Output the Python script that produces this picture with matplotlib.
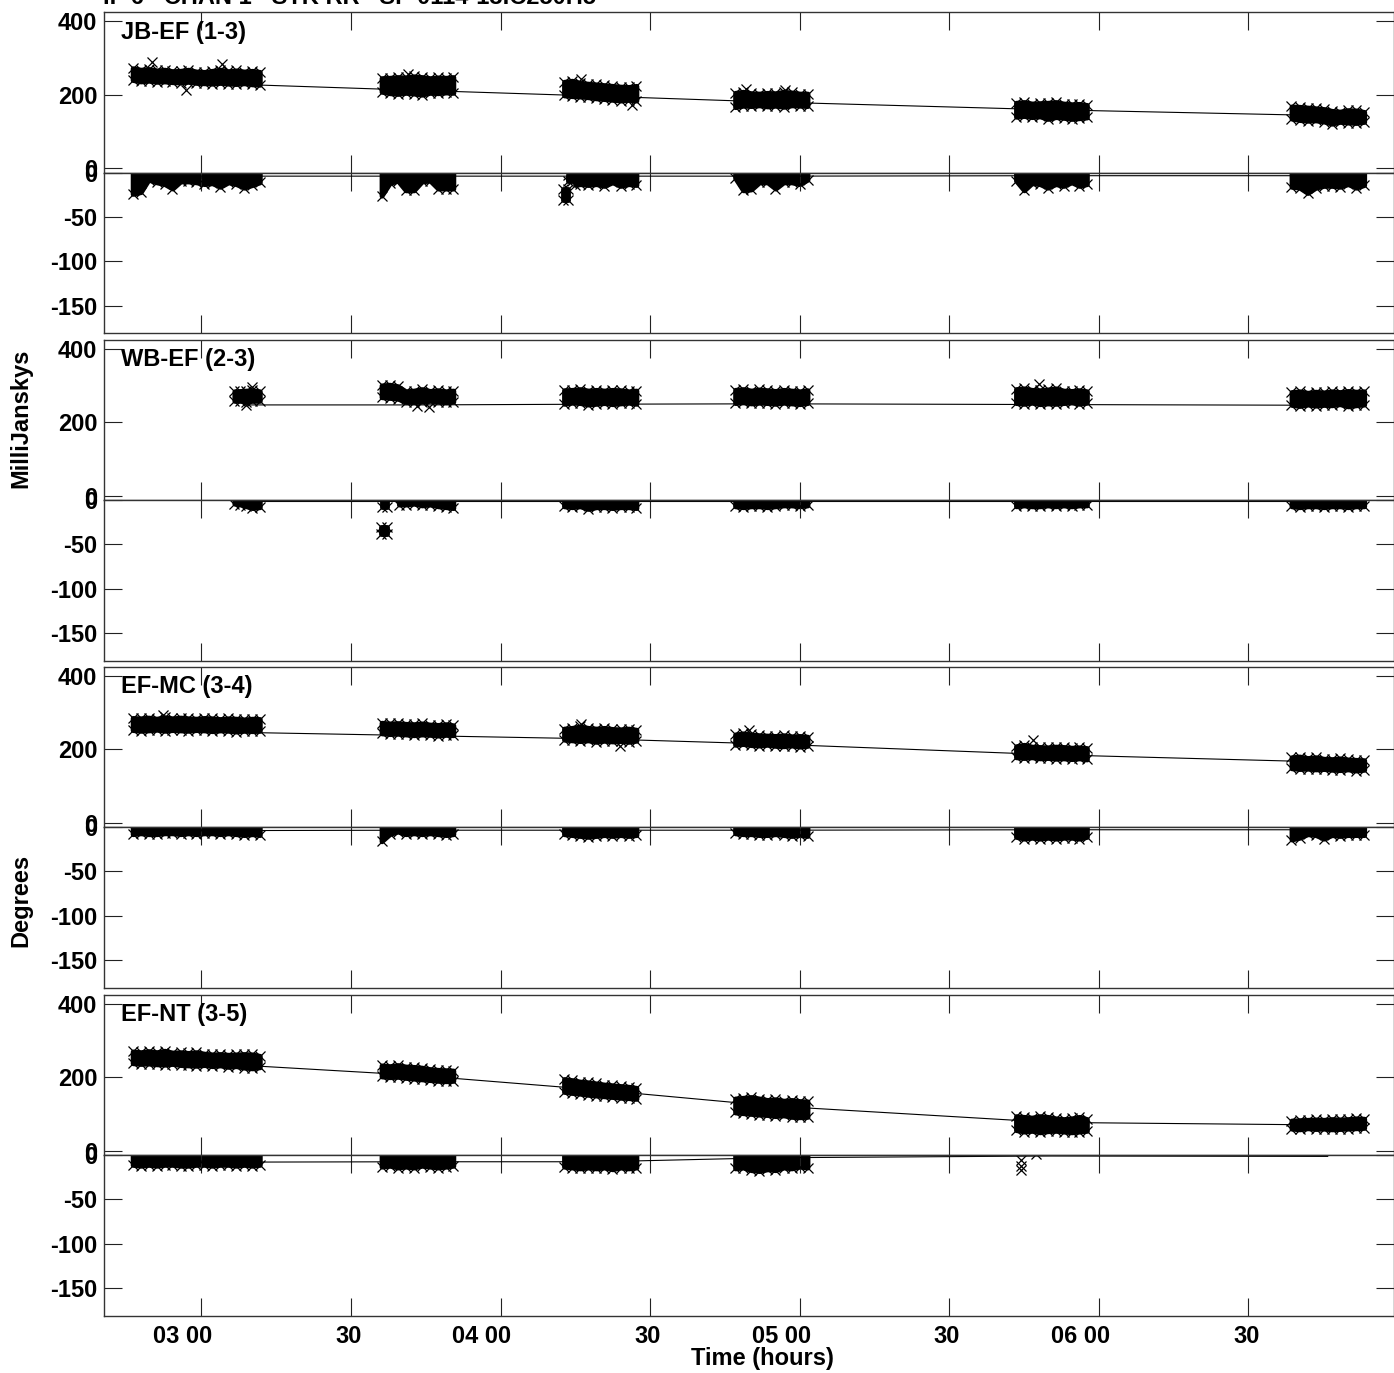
import matplotlib
matplotlib.use('Agg')
import matplotlib.pyplot as plt
from matplotlib.transforms import ScaledTranslation

plt.rcParams['font.family'] = ['Liberation Sans', 'DejaVu Sans']
plt.rcParams['font.weight'] = 'bold'
plt.rcParams['axes.unicode_minus'] = False

W, H = 1394.0, 1373.0
DPI = 100

# scan column times, hours
t1 = [2.77, 2.797, 2.823, 2.85, 2.877, 2.903, 2.93, 2.956, 2.983, 3.01, 3.036, 3.063, 3.09, 3.116, 3.143, 3.17, 3.195]
t2 = [3.602, 3.629, 3.656, 3.683, 3.71, 3.737, 3.764, 3.791, 3.818, 3.842]
t3 = [4.212, 4.239, 4.266, 4.293, 4.32, 4.347, 4.374, 4.401, 4.428, 4.454]
t4 = [4.784, 4.811, 4.838, 4.865, 4.892, 4.919, 4.946, 4.973, 5.0, 5.026]
t5 = [5.723, 5.75, 5.776, 5.803, 5.829, 5.856, 5.882, 5.909, 5.935, 5.96]
t6 = [6.644, 6.671, 6.698, 6.725, 6.752, 6.779, 6.806, 6.833, 6.86, 6.887]
t1_wb = [3.11, 3.13, 3.15, 3.17, 3.195]
t2_wb_a = [3.602, 3.62]
t2_wb_b = [3.66, 3.683, 3.71, 3.737, 3.764, 3.791, 3.818, 3.842]
t3_jb = [4.25, 4.266, 4.293, 4.32, 4.347, 4.374, 4.401, 4.428, 4.454]
t_model = [2.98, 3.72, 4.33, 4.905, 5.84, 6.765]
t_model_wb = [3.15, 3.72, 4.33, 4.905, 5.84, 6.765]

scan_times = [t1, t2, t3, t4, t5, t6]
scan_times_wb = [t1_wb, t2, t3, t4, t5, t6]

baselines = ['JB-EF (1-3)', 'WB-EF (2-3)', 'EF-MC (3-4)', 'EF-NT (3-5)']

# amplitude band, mJy (top and bottom of the x cloud per column)
jb_amp_hi = [[272, 268, 270, 266, 268, 264, 265, 268, 263, 262, 265, 268, 264, 266, 263, 265, 262],
             [245, 246, 248, 247, 250, 248, 245, 247, 246, 248],
             [235, 238, 232, 230, 228, 226, 224, 222, 221, 224],
             [205, 208, 204, 203, 205, 204, 208, 206, 203, 203],
             [178, 180, 176, 177, 178, 180, 176, 174, 175, 172],
             [168, 167, 165, 163, 161, 156, 154, 158, 157, 153]]
jb_amp_lo = [[240, 236, 238, 235, 236, 234, 233, 235, 232, 231, 230, 232, 230, 229, 231, 228, 227],
             [208, 204, 202, 205, 203, 200, 205, 204, 206, 205],
             [198, 196, 195, 193, 190, 188, 186, 184, 186, 184],
             [166, 170, 169, 171, 168, 170, 167, 171, 170, 169],
             [140, 142, 139, 141, 134, 139, 137, 134, 136, 138],
             [135, 131, 129, 130, 127, 121, 126, 124, 123, 126]]
wb_amp_hi = [[284, 285, 286, 287, 284],
             [300, 302, 298, 284, 286, 290, 285, 287, 284, 286],
             [287, 288, 290, 286, 288, 286, 288, 287, 284, 286],
             [288, 290, 286, 289, 287, 285, 288, 286, 284, 287],
             [290, 292, 288, 287, 289, 292, 286, 285, 287, 284],
             [282, 284, 280, 283, 281, 284, 282, 285, 283, 284]]
wb_amp_lo = [[258, 258, 256, 258, 258],
             [268, 266, 264, 255, 255, 256, 258, 256, 254, 256],
             [250, 253, 252, 248, 250, 252, 249, 251, 253, 250],
             [252, 254, 251, 253, 252, 250, 253, 251, 249, 252],
             [252, 250, 253, 249, 251, 250, 252, 254, 250, 253],
             [247, 244, 248, 245, 247, 246, 249, 243, 246, 248]]
mc_amp_hi = [[285, 284, 286, 283, 287, 284, 286, 284, 283, 285, 284, 282, 284, 283, 281, 283, 282],
             [272, 270, 271, 269, 268, 270, 267, 266, 268, 265],
             [256, 258, 262, 258, 256, 258, 255, 254, 256, 253],
             [240, 243, 240, 238, 237, 236, 238, 235, 236, 234],
             [208, 212, 207, 206, 205, 207, 206, 204, 205, 203],
             [178, 180, 176, 178, 174, 173, 175, 172, 171, 170]]
mc_amp_lo = [[252, 250, 251, 253, 250, 252, 251, 250, 252, 251, 249, 251, 250, 248, 250, 249, 250],
             [243, 241, 242, 240, 238, 240, 239, 237, 239, 238],
             [226, 224, 222, 224, 220, 223, 221, 222, 220, 223],
             [212, 214, 211, 210, 212, 209, 208, 210, 207, 209],
             [178, 176, 178, 175, 176, 174, 175, 173, 175, 172],
             [148, 146, 147, 145, 146, 144, 143, 145, 142, 144]]
nt_amp_hi = [[270, 268, 271, 268, 272, 267, 268, 266, 268, 264, 262, 263, 261, 262, 263, 262, 258],
             [232, 230, 233, 229, 228, 226, 222, 220, 219, 218],
             [195, 192, 188, 186, 183, 180, 178, 176, 174, 171],
             [142, 144, 146, 142, 138, 140, 136, 138, 135, 134],
             [94, 92, 90, 94, 92, 88, 86, 88, 92, 86],
             [82, 83, 84, 85, 84, 86, 85, 86, 88, 87]]
nt_amp_lo = [[238, 236, 237, 235, 234, 236, 233, 232, 231, 233, 230, 232, 228, 230, 226, 224, 227],
             [202, 200, 201, 198, 196, 194, 192, 190, 189, 190],
             [160, 157, 155, 152, 150, 148, 146, 144, 143, 141],
             [104, 102, 100, 98, 97, 94, 96, 92, 91, 92],
             [56, 52, 54, 50, 53, 54, 52, 50, 52, 54],
             [60, 58, 61, 59, 60, 58, 59, 60, 61, 62]]

# phase, degrees: lower edge of the cloud, the top is cut at 0 by the axes
jb_ph_t = [t1, t2, t3_jb, t4, t5, t6]
jb_ph_lo = [[-24, -22, -8, -11, -13, -18, -10, -10, -11, -13, -12, -16, -11, -13, -17, -14, -11],
            [-26, -12, -9, -20, -20, -10, -9, -18, -18, -18],
            [-14, -13, -14, -13, -15, -11, -15, -13, -14],
            [-6, -20, -19, -11, -11, -18, -11, -11, -13, -8],
            [-9, -20, -12, -13, -17, -13, -15, -11, -15, -13],
            [-16, -17, -23, -17, -15, -15, -16, -13, -17, -14]]
wb_ph_t = [t1_wb, t2_wb_a, t2_wb_b, t3, t4, t5, t6]
wb_ph_lo = [[-4, -5, -7, -9, -8],
            [-8, -8],
            [-5, -5, -4, -6, -5, -7, -8, -9],
            [-7, -8, -7, -10, -8, -8, -9, -8, -8, -9],
            [-7, -8, -7, -7, -8, -7, -6, -6, -7, -6],
            [-7, -6, -7, -7, -6, -7, -6, -7, -6, -6],
            [-7, -8, -7, -7, -8, -7, -7, -8, -7, -7]]
mc_ph_t = [t1, t2, t3, t4, t5, t6]
mc_ph_lo = [[-8, -7, -8, -8, -7, -7, -8, -7, -8, -7, -7, -8, -7, -8, -9, -8, -9],
            [-16, -8, -5, -8, -7, -8, -7, -8, -9, -8],
            [-8, -9, -10, -11, -10, -9, -10, -9, -10, -9],
            [-7, -8, -8, -9, -9, -8, -9, -10, -9, -10],
            [-11, -13, -12, -13, -12, -13, -12, -12, -13, -11],
            [-14, -12, -8, -9, -13, -9, -10, -9, -9, -9]]
nt_ph_t = [t1, t2, t3, t4]
nt_ph_lo = [[-11, -12, -11, -12, -11, -11, -12, -12, -11, -11, -12, -11, -11, -12, -11, -12, -11],
            [-13, -12, -14, -13, -14, -12, -13, -14, -13, -12],
            [-13, -14, -15, -14, -15, -14, -16, -14, -15, -14],
            [-15, -14, -17, -18, -16, -17, -14, -15, -13, -14]]

# detached clumps in phase (times, top, bottom)
jb_clumps = [([4.208, 4.226], [-19, -19], [-31, -31]),
             ([4.226, 4.24], [-3, -3], [-9, -9])]
wb_clumps = [([3.60, 3.62], [-30, -30], [-38, -38])]

# stray points
jb_amp_out_t = [2.835, 2.949, 3.07, 3.69, 4.27, 4.44, 4.82, 4.95]
jb_amp_out_v = [289, 212, 283, 255, 242, 172, 216, 214]
wb_amp_out_t = [3.17, 3.15, 3.72, 3.76, 5.80]
wb_amp_out_v = [295, 247, 243, 242, 304]
mc_amp_out_t = [2.87, 4.27, 4.40, 4.83, 5.78]
mc_amp_out_v = [294, 268, 210, 252, 224]
nt_ph_out_t = [5.74, 5.74, 5.74, 5.79]
nt_ph_out_v = [-6, -12, -17, 1]

# model lines through the scans
jb_amp_model = [232, 212, 196, 180, 159, 143]
wb_amp_model = [247, 247, 249, 250, 248, 246]
mc_amp_model = [248, 237, 228, 214, 185, 165]
nt_amp_model = [240, 205, 165, 122, 77, 70]
jb_ph_model = [-4, -4, -4, -4, -3.5, -3.5]
wb_ph_model = [-1.5, -1.5, -1.5, -1.5, -1.5, -1.5]
mc_ph_model = [-4, -3.5, -3.5, -3.5, -3, -3]
nt_ph_model = [-8, -7.5, -7.5, -3, -1, -1.5]

x_ticks = [3.0, 3.5, 4.0, 4.5, 5.0, 5.5, 6.0, 6.5]
x_labels = ['03 00', '30', '04 00', '30', '05 00', '30', '06 00', '30']
amp_ticks = [0, 200, 400]
ph_ticks = [0, -50, -100, -150]

LEFT, RIGHT = 103.5, 1393.5
panel_tops = [12, 339.5, 666.5, 994.5]
SUB_H = 160.6
FS = 17


def make_axes(fig, top, ylim, yticks):
    ax = fig.add_axes([LEFT / W, 1 - (top + SUB_H) / H, (RIGHT - LEFT) / W, SUB_H / H])
    ax.set_xlim(2.6725, 6.985)
    ax.set_ylim(*ylim)
    ax.set_xticks(x_ticks)
    ax.set_yticks(yticks)
    ax.set_xticklabels([])
    ax.tick_params(direction='in', length=13, width=0.8, top=True, right=True, color='#222222',
                   labelsize=FS, pad=4.5)
    for s in ax.spines.values():
        s.set_linewidth(1.0)
        s.set_color('#333333')
    return ax


def band(ax, t, hi, lo, edge_hi=True):
    ax.fill_between(t, lo, hi, facecolor='k', edgecolor='k', lw=3.5)
    if edge_hi:
        ax.plot(t, hi, 'x', color='k', ms=6.5, mew=0.9)
    ax.plot(t, lo, 'x', color='k', ms=6.5, mew=0.9)


def main():
    fig = plt.figure(figsize=(W / DPI, H / DPI), dpi=DPI)

    amp_hi = [jb_amp_hi, wb_amp_hi, mc_amp_hi, nt_amp_hi]
    amp_lo = [jb_amp_lo, wb_amp_lo, mc_amp_lo, nt_amp_lo]
    amp_t = [scan_times, scan_times_wb, scan_times, scan_times]
    ph_t = [jb_ph_t, wb_ph_t, mc_ph_t, nt_ph_t]
    ph_lo = [jb_ph_lo, wb_ph_lo, mc_ph_lo, nt_ph_lo]
    model_t = [t_model, t_model_wb, t_model, t_model]
    amp_model = [jb_amp_model, wb_amp_model, mc_amp_model, nt_amp_model]
    ph_model = [jb_ph_model, wb_ph_model, mc_ph_model, nt_ph_model]
    clumps = [jb_clumps, wb_clumps, [], []]
    amp_out = [(jb_amp_out_t, jb_amp_out_v), (wb_amp_out_t, wb_amp_out_v), (mc_amp_out_t, mc_amp_out_v), ([], [])]

    for i, top in enumerate(panel_tops):
        ax_a = make_axes(fig, top, (-12, 425), amp_ticks)
        ax_p = make_axes(fig, top + SUB_H, (-181, 0), ph_ticks)

        ax_a.plot(model_t[i], amp_model[i], color='k', lw=0.8)
        ax_p.plot(model_t[i], ph_model[i], color='k', lw=0.8)

        for t, hi, lo in zip(amp_t[i], amp_hi[i], amp_lo[i]):
            band(ax_a, t, hi, lo)
        ax_a.plot(amp_out[i][0], amp_out[i][1], 'x', color='k', ms=6.5, mew=0.9)

        for t, lo in zip(ph_t[i], ph_lo[i]):
            band(ax_p, t, [0] * len(t), lo, edge_hi=False)
        for t, hi, lo in clumps[i]:
            band(ax_p, t, hi, lo)

        fig.text(121 / W, 1 - (top + 20) / H, baselines[i], fontsize=FS, ha='left', va='center')

        if i == 3:
            ax_p.plot(nt_ph_out_t, nt_ph_out_v, 'x', color='k', ms=6.5, mew=0.9)
            ax_p.set_xticklabels(x_labels)
            ax_p.tick_params(axis='x', pad=7)
            shift = ScaledTranslation(11 / DPI, 0, fig.dpi_scale_trans)
            for lab in ax_p.get_xticklabels():
                lab.set_ha('right')
                lab.set_transform(lab.get_transform() + shift)

    fig.text(103 / W, 1 - 4 / H, 'IF 6   CHAN 1   STK RR   SP 0114-13.C250H5', fontsize=FS,
             ha='left', va='baseline')
    fig.text(21 / W, 1 - 418 / H, 'MilliJanskys', fontsize=FS, rotation=90, ha='center', va='center')
    fig.text(21 / W, 1 - 900 / H, 'Degrees', fontsize=FS, rotation=90, ha='center', va='center')
    fig.text(762 / W, 1 - 1359 / H, 'Time (hours)', fontsize=FS, ha='center', va='center')

    fig.savefig('out.png', dpi=DPI)


if __name__ == "__main__":
    main()
